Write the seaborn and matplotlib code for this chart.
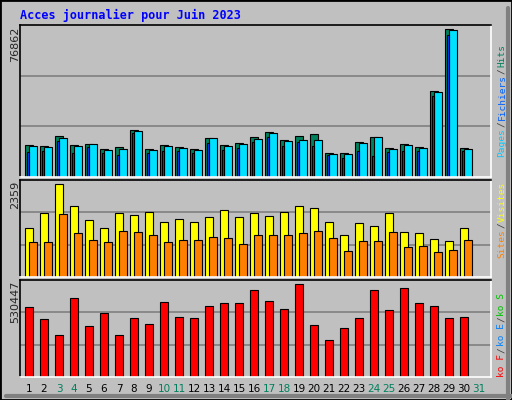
import matplotlib
matplotlib.use("Agg")
import matplotlib.pyplot as plt
import seaborn as sns
import numpy as np

# donnees journalieres juin 2023
jours = list(range(1, 31))
hits = [16870, 16350, 21560, 16870, 17390, 14780, 15480, 24690, 14780, 16870,
        15820, 14780, 20520, 16870, 17910, 21040, 23650, 19480, 21560, 22610,
        12690, 12690, 18430, 21040, 15300, 17390, 15820, 44690, 76862, 15300]
pages = [16350, 15820, 20520, 16350, 17390, 14260, 14780, 24170, 14260, 16350,
         15300, 14260, 20520, 16350, 17390, 20000, 23130, 18960, 19480, 19480,
         12170, 12170, 17910, 21040, 14780, 16870, 15300, 44000, 76340, 14780]
fichiers = [13220, 13740, 18960, 12690, 15820, 12690, 11650, 23130, 12690, 13740,
            13740, 12690, 17910, 14260, 15300, 18430, 21040, 16350, 18430, 16350,
            11650, 10090, 13740, 11130, 13220, 13740, 13740, 42260, 73730, 13740]
visites = [1231, 1615, 2359, 1795, 1436, 1256, 1615, 1564, 1641, 1385,
           1462, 1385, 1513, 1692, 1513, 1615, 1538, 1641, 1795, 1744,
           1385, 1077, 1359, 1282, 1615, 1154, 1128, 974, 923, 1256]
sites = [897, 897, 1590, 1128, 949, 897, 1179, 1154, 1077, 897,
         949, 949, 1026, 1000, 846, 1077, 1077, 1077, 1128, 1179,
         1000, 667, 923, 923, 1154, 769, 795, 641, 692, 949]
ko = [402200, 332300, 239000, 448800, 291400, 367200, 239000, 338100, 303100, 425500,
      343900, 338100, 408000, 419700, 419700, 495500, 431300, 390500, 530447, 297300,
      209800, 279800, 338100, 495500, 384700, 507100, 419700, 408000, 338100, 343900]
weekend = [3, 4, 10, 11, 17, 18, 24, 25, 31]

sns.set_style("white")
plt.rcParams["font.family"] = ["DejaVu Sans"]

W, H = 512, 400
fig = plt.figure(figsize=(W / 100, H / 100), dpi=100)
fig.patch.set_facecolor("#C0C0C0")

def px_axes(x0, y0, x1, y1):
    return fig.add_axes([x0 / W, 1 - y1 / H, (x1 - x0) / W, (y1 - y0) / H])

x = np.array(jours)
xlim = (0.13, 31.53)

def style(ax, top):
    ax.set_facecolor("#C0C0C0")
    ax.set_xlim(*xlim)
    ax.set_ylim(0, top)
    for g in (top / 3, 2 * top / 3):
        ax.axhline(g, color="#808080", lw=1.2, zorder=0)
    ax.set_xticks([])
    ax.set_yticks([])
    ax.spines["top"].set_color("black")
    ax.spines["left"].set_color("black")
    ax.spines["bottom"].set_color("white")
    ax.spines["right"].set_color("white")
    for s in ax.spines.values():
        s.set_linewidth(1.2)

kw = dict(align="edge", edgecolor="black", linewidth=0.8, zorder=2)

ax1 = px_axes(20, 25, 491, 177)
style(ax1, max(hits) * 455 / 442)
ax1.bar(x - 0.53, hits, width=0.53, color="#00805C", **kw)
ax1.bar(x - 0.25, pages, width=0.5, color="#00E0FF", **kw)
ax1.bar(x - 0.42, fichiers, width=0.17, color="#0040FF", **kw)

ax2 = px_axes(20, 180, 491, 277)
style(ax2, max(visites) * 288 / 276)
ax2.bar(x - 0.53, visites, width=0.53, color="#FFFF00", **kw)
ax2.bar(x - 0.27, sites, width=0.52, color="#FF8000", **kw)

ax3 = px_axes(20, 280, 491, 377)
style(ax3, max(ko) * 285 / 273)
ax3.bar(x - 0.53, ko, width=0.51, color="#FF0000", **kw)

# titre
fig.text(20 / W, 1 - 15 / H, "Acces journalier pour Juin 2023", color="#0000FF",
         fontsize=8.5, fontweight="bold", family="DejaVu Sans Mono", va="center")

# valeurs max a gauche
for y, v in [(27, max(hits)), (181, max(visites)), (281, max(ko))]:
    fig.text(15 / W, 1 - y / H, str(v), rotation=90, fontsize=8, ha="center", va="top")

renderer = fig.canvas.get_renderer()

# legendes a droite (verticales), empilees selon leur taille reelle
def legende(parts, y_bas):
    y = y_bas
    for txt, col in parts:
        t = fig.text(502 / W, 1 - y / H, txt, rotation=90, color=col, fontsize=6.8,
                     family="DejaVu Sans Mono", ha="center", va="bottom")
        y -= t.get_window_extent(renderer).height + 1

sep = "#404040"
legende([("Pages", "#00C8FF"), ("/", sep), ("Fichiers", "#0060FF"),
         ("/", sep), ("Hits", "#00805C")], 157)
legende([("Sites", "#FF8000"), ("/", sep), ("Visites", "#FFFF00")], 258)
legende([("ko F", "#FF0000"), ("/", sep), ("ko E", "#0080FF"),
         ("/", sep), ("ko S", "#00C000")], 377)

# jours
for d in range(1, 32):
    xp = 20 + (d - xlim[0]) / (xlim[1] - xlim[0]) * 471 - 0.27 * 15
    fig.text(xp / W, 1 - 389 / H, str(d), fontsize=7.5, ha="center", va="center",
             color="#00805C" if d in weekend else "black")

# bordure
fig.add_artist(plt.Rectangle((0, 0), 1, 1, transform=fig.transFigure, fill=False,
                             edgecolor="black", lw=2))
fig.add_artist(plt.Line2D([1 - 4 / W, 1 - 4 / W], [0, 1 - 8 / H], transform=fig.transFigure,
                          color="#808080", lw=3))
fig.add_artist(plt.Line2D([6 / W, 1], [4 / H, 4 / H], transform=fig.transFigure,
                          color="#808080", lw=3))

fig.savefig("out.png", dpi=100, facecolor=fig.get_facecolor())
